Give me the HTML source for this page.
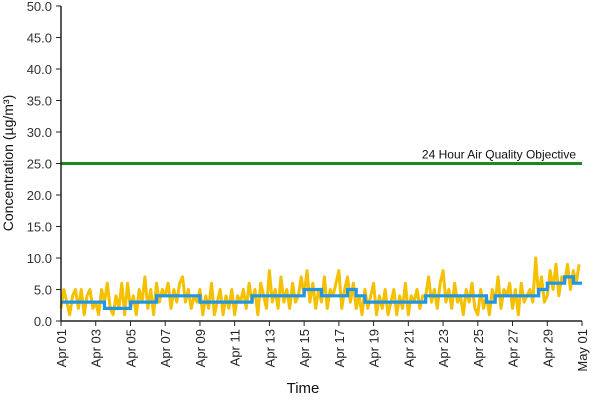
<!DOCTYPE html>
<html><head><meta charset="utf-8"><style>
body{margin:0;background:#fff;}
svg{display:block;font-family:"Liberation Sans",sans-serif;}
</style></head><body>
<svg id="chart" width="600" height="400"></svg>
<script>
const yTicks=[0,5,10,15,20,25,30,35,40,45,50];
const xTickLabels=["Apr 01","Apr 03","Apr 05","Apr 07","Apr 09","Apr 11","Apr 13","Apr 15","Apr 17","Apr 19","Apr 21","Apr 23","Apr 25","Apr 27","Apr 29","May 01"];
const xTickDays=[0,2,4,6,8,10,12,14,16,18,20,22,24,26,28,30];
const objectiveValue=25;
const objectiveLabel="24 Hour Air Quality Objective";
// 4-hourly measurements (6 per day)
const hourlyValues=[
2,5,3,1,4,5, 2,5,1,4,5,2, 3,1,5,3,6,2, 1,4,2,6,1,6, 2,4,1,5,3,7,
2,5,1,6,3,5, 4,6,2,5,3,6, 7,3,5,2,4,3, 5,1,4,2,6,1, 3,5,1,4,2,5,
1,4,3,5,2,6, 3,5,1,6,4,2, 8,3,5,2,7,3, 5,2,6,3,4,7, 4,8,3,6,2,5,
3,7,2,5,4,6, 8,2,5,7,3,6, 2,4,1,5,2,4, 6,1,4,2,5,1, 3,5,1,4,2,6,
1,4,3,5,2,4, 4,7,3,5,2,6, 8,3,5,2,6,3, 4,1,5,3,6,2, 1,5,2,4,1,5,
3,7,2,5,4,6, 2,5,1,6,3,4, 5,3,10,4,7,3, 4,8,5,9,4,7, 6,9,5,8,6,9];
// half-daily rolling average
const averageValues=[3,3,3,3,3,2,2,2,3,3,3,4,4,4,4,4,3,3,3,3,3,3,4,4,4,4,4,4,5,5,4,4,4,5,4,3,3,3,3,3,3,3,4,4,4,4,4,4,4,3,4,4,4,4,4,5,6,6,7,6];

const NS="http://www.w3.org/2000/svg";
const svg=document.getElementById('chart');
const X0=61,X1=582,Y0=321,Y1=6;
const xs=d=>X0+(X1-X0)*d/30;
const ys=v=>Y0-(Y0-Y1)*v/50;
function mk(tag,attrs,parent){const e=document.createElementNS(NS,tag);for(const k in attrs)e.setAttribute(k,attrs[k]);(parent||svg).appendChild(e);return e;}

let pts=hourlyValues.map((v,i)=>xs(i/6)+','+ys(v)).join(' ');
const yl=mk('polyline',{points:pts,fill:'none',stroke:'#f4c000','stroke-width':3,'stroke-linejoin':'round'});


let bp=[];
averageValues.forEach((v,i)=>{bp.push(xs(i/2)+','+ys(v));bp.push(xs((i+1)/2)+','+ys(v));});
const bl=mk('polyline',{points:bp.join(' '),fill:'none',stroke:'#2196e8','stroke-width':3.2});


const ol=mk('line',{x1:X0,x2:X1,y1:ys(objectiveValue),y2:ys(objectiveValue),stroke:'#1e8a1e','stroke-width':3});


const ot=mk('text',{x:576,y:ys(objectiveValue)-5,'text-anchor':'end','font-size':12,fill:'#111'});
ot.textContent=objectiveLabel;



const ya=mk('line',{x1:X0,x2:X0,y1:Y1,y2:Y0,stroke:'#222','stroke-width':1.5});


const xa=mk('line',{x1:X0,x2:X1,y1:Y0,y2:Y0,stroke:'#222','stroke-width':1.5});


yTicks.forEach(v=>{
 mk('line',{x1:X0-5,x2:X0,y1:ys(v),y2:ys(v),stroke:'#222'});
 const t=mk('text',{x:52,y:ys(v)+5,'text-anchor':'end','font-size':13,fill:'#333'});
 t.textContent=v.toFixed(1);
 
 
});
xTickDays.forEach((d,i)=>{
 mk('line',{x1:xs(d),x2:xs(d),y1:Y0,y2:Y0+5,stroke:'#222'});
 const t=mk('text',{x:0,y:0,'text-anchor':'end','font-size':13,fill:'#222',transform:`translate(${xs(d)+5},${Y0+8}) rotate(-90)`});
 t.textContent=xTickLabels[i];
 
 
});
const xt=mk('text',{x:303,y:393,'text-anchor':'middle','font-size':15,fill:'#111'});
xt.textContent='Time';


const yt=mk('text',{x:0,y:0,'text-anchor':'middle','font-size':14,fill:'#111',transform:'translate(13,163) rotate(-90)'});
yt.textContent='Concentration (µg/m³)';


</script>
</body></html>
